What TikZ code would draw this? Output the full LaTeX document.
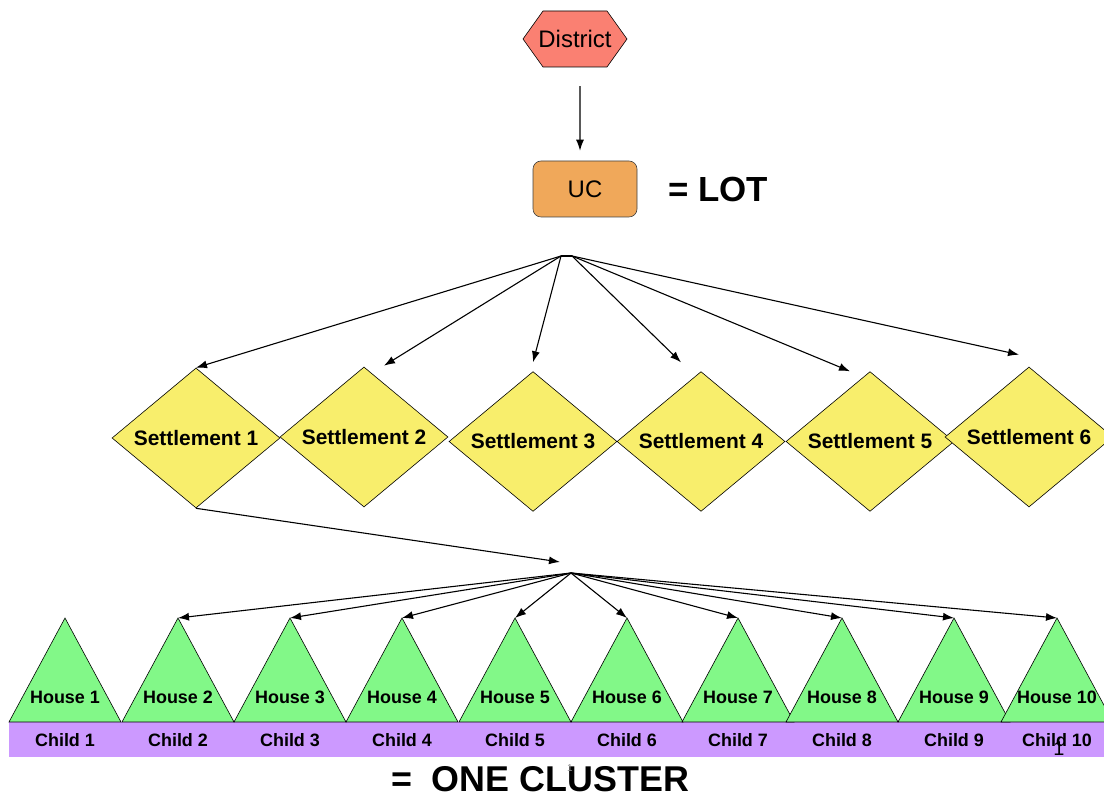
\documentclass[tikz,border=0pt]{standalone}
\usepackage{fontspec}
\setmainfont{Liberation Sans}
\usetikzlibrary{shapes,arrows.meta}
\definecolor{districtred}{RGB}{250,128,114}
\definecolor{ucorange}{RGB}{240,168,90}
\definecolor{settleyellow}{RGB}{248,238,108}
\definecolor{housegreen}{RGB}{130,248,136}
\definecolor{childpurple}{RGB}{204,153,255}

\begin{document}
\begin{tikzpicture}[>={Latex[length=11bp,width=8bp]}]
  \tikzstyle{every node}=[font=\fontsize{18}{20}\selectfont\bfseries]
  \tikzstyle{settlement}=[diamond,draw,line width=0.6bp,fill=settleyellow,inner sep=0pt,minimum width=168bp,font=\fontsize{21}{24}\selectfont\bfseries]
  \tikzstyle{house}=[draw,line width=0.6bp,fill=housegreen]
  \tikzstyle{link}=[->,line width=1.1bp]
  %%
  \useasboundingbox (0bp,0bp) rectangle (1104bp,796bp);
  % top: district and UC
  \filldraw [fill=districtred,line width=0.6bp] (523bp,757bp) -- (543bp,785bp) -- (607bp,785bp) -- (627bp,757bp) -- (607bp,729bp) -- (543bp,729bp) -- cycle;
  \node (district) at (575bp,757bp) [minimum width=104bp,minimum height=56bp,font=\fontsize{24}{28}\selectfont] {District};
  \node (uc) at (585bp,607bp) [draw=black!75,line width=0.6bp,fill=ucorange,rounded corners=8bp,minimum width=104bp,minimum height=56bp,font=\fontsize{24}{28}\selectfont] {UC};
  \node (lot) at (718bp,606bp) [font=\fontsize{35}{40}\selectfont\bfseries] {= LOT};
  \draw [link,shorten <=19bp,shorten >=10bp] ([xshift=5bp]district.south) -- ([xshift=-5bp]uc.north);
  % settlements
  \coordinate (fanl) at (561bp,540bp);
  \coordinate (fanr) at (572bp,540bp);
  \node (s1) at (196bp,358bp) [settlement,minimum height=140bp] {Settlement 1};
  \node (s2) at (364bp,359bp) [settlement,minimum height=140bp] {Settlement 2};
  \node (s3) at (533bp,354.5bp) [settlement,minimum height=131bp] {Settlement 3};
  \node (s4) at (701bp,354.5bp) [settlement,minimum height=131bp] {Settlement 4};
  \node (s5) at (870bp,354.5bp) [settlement,minimum height=131bp] {Settlement 5};
  \node (s6) at (1029bp,359bp) [settlement,minimum height=140bp] {Settlement 6};
  \draw [line width=1.1bp] (fanl) -- (fanr);
  \draw [link] (fanl) -- (s1.north);
  \draw [link] (fanl) -- ([shift={(20bp,1bp)}]s2.north);
  \draw [link] (fanl) -- ([shift={(0bp,9bp)}]s3.north);
  \draw [link] (fanr) -- ([shift={(-20bp,9bp)}]s4.north);
  \draw [link] (fanr) -- ([shift={(-20bp,0bp)}]s5.north);
  \draw [link] (fanr) -- ([shift={(-10bp,12bp)}]s6.north);
  % cluster: houses and children
  \coordinate (clusterin) at (560bp,234bp);
  \coordinate (hub) at (571bp,223bp);
  \draw [link] (s1.south) -- (clusterin);
  \fill [childpurple] (9bp,39bp) rectangle (1112bp,74bp);
  \filldraw [house] (9bp,74bp) -- (65bp,178bp) coordinate (h1) -- (121bp,74bp) -- cycle;
  \filldraw [house] (122bp,74bp) -- (178bp,178bp) coordinate (h2) -- (234bp,74bp) -- cycle;
  \filldraw [house] (234bp,74bp) -- (290bp,178bp) coordinate (h3) -- (346bp,74bp) -- cycle;
  \filldraw [house] (346bp,74bp) -- (402bp,178bp) coordinate (h4) -- (458bp,74bp) -- cycle;
  \filldraw [house] (459bp,74bp) -- (515bp,178bp) coordinate (h5) -- (571bp,74bp) -- cycle;
  \filldraw [house] (571bp,74bp) -- (627bp,178bp) coordinate (h6) -- (683bp,74bp) -- cycle;
  \filldraw [house] (682bp,74bp) -- (738bp,178bp) coordinate (h7) -- (794bp,74bp) -- cycle;
  \filldraw [house] (786bp,74bp) -- (842bp,178bp) coordinate (h8) -- (898bp,74bp) -- cycle;
  \filldraw [house] (898bp,74bp) -- (954bp,178bp) coordinate (h9) -- (1010bp,74bp) -- cycle;
  \filldraw [house] (1001bp,74bp) -- (1057bp,178bp) coordinate (h10) -- (1113bp,74bp) -- cycle;
  \node (house1) at (65bp,99bp) {House 1};
  \node (house2) at (178bp,99bp) {House 2};
  \node (house3) at (290bp,99bp) {House 3};
  \node (house4) at (402bp,99bp) {House 4};
  \node (house5) at (515bp,99bp) {House 5};
  \node (house6) at (627bp,99bp) {House 6};
  \node (house7) at (738bp,99bp) {House 7};
  \node (house8) at (842bp,99bp) {House 8};
  \node (house9) at (954bp,99bp) {House 9};
  \node (house10) at (1057bp,99bp) {House 10};
  \node (child1) at (65bp,56bp) {Child 1};
  \node (child2) at (178bp,56bp) {Child 2};
  \node (child3) at (290bp,56bp) {Child 3};
  \node (child4) at (402bp,56bp) {Child 4};
  \node (child5) at (515bp,56bp) {Child 5};
  \node (child6) at (627bp,56bp) {Child 6};
  \node (child7) at (738bp,56bp) {Child 7};
  \node (child8) at (842bp,56bp) {Child 8};
  \node (child9) at (954bp,56bp) {Child 9};
  \node (child10) at (1057bp,56bp) {Child 10};
  \draw [link] (hub) -- (h2);
  \draw [link] (hub) -- (h3);
  \draw [link] (hub) -- (h4);
  \draw [link] (hub) -- (h5);
  \draw [link] (hub) -- (h6);
  \draw [link] (hub) -- (h7);
  \draw [link] (hub) -- (h8);
  \draw [link] (hub) -- (h9);
  \draw [link] (hub) -- (h10);
  \node (cluster) at (540bp,5bp) [anchor=base,inner sep=1bp,font=\fontsize{36}{40}\selectfont\bfseries] {=\ \ ONE CLUSTER};
  \node (pagea) at (570bp,28bp) [text=black!45,font=\fontsize{10}{12}\selectfont] {1};
  \node (pageb) at (1059bp,47bp) [font=\fontsize{20}{22}\selectfont] {1};
%
\end{tikzpicture}
\end{document}
